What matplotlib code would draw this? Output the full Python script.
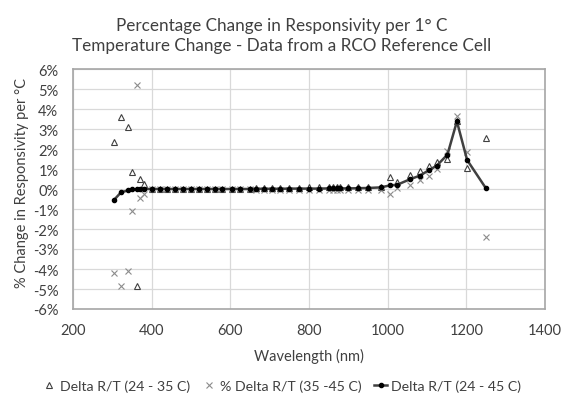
import matplotlib
matplotlib.use("Agg")
import matplotlib.pyplot as plt
from matplotlib.ticker import FuncFormatter, MultipleLocator

plt.rcParams['font.family'] = ['Lato', 'DejaVu Sans']

wavelength = [305, 322, 340, 349, 362, 371, 380, 400, 420, 440, 460, 480, 500,
              520, 540, 560, 580, 605, 625, 650, 665, 685, 705, 725, 750, 775,
              800, 825, 850, 860, 870, 880, 900, 925, 950, 982, 1006, 1024,
              1056, 1082, 1104, 1125, 1152, 1176, 1202, 1250]

delta_24_35 = [2.33, 3.58, 3.08, 0.83, -4.83, 0.50, 0.23, 0.0, 0.0, 0.0, 0.0, 0.0, 0.0,
               0.0, 0.0, 0.0, 0.0, 0.0, 0.0, 0.02, 0.03, 0.05, 0.05, 0.05, 0.06, 0.07,
               0.08, 0.08, 0.1, 0.1, 0.1, 0.1, 0.1, 0.1, 0.12, 0.12, 0.58, 0.37,
               0.70, 0.92, 1.13, 1.37, 1.50, 3.40, 1.03, 2.55]

delta_35_45 = [-4.20, -4.83, -4.12, -1.12, 5.20, -0.45, -0.25, 0.0, 0.0, 0.0, 0.0, 0.0, 0.0,
               0.0, 0.0, 0.0, 0.0, 0.0, 0.0, -0.02, -0.03, -0.04, -0.05, -0.05, -0.05, -0.05,
               -0.05, -0.05, -0.05, -0.05, -0.05, -0.05, -0.05, -0.04, -0.03, -0.03, -0.27, 0.03,
               0.22, 0.47, 0.67, 1.00, 1.92, 3.63, 1.83, -2.38]

delta_24_45 = [-0.53, -0.17, -0.07, -0.02, -0.01, 0.0, 0.0, 0.0, 0.0, 0.0, 0.0, 0.0, 0.0,
               0.0, 0.0, 0.0, 0.0, 0.0, 0.0, 0.0, 0.01, 0.01, 0.01, 0.01, 0.02, 0.02,
               0.02, 0.02, 0.03, 0.03, 0.03, 0.03, 0.03, 0.04, 0.05, 0.08, 0.18, 0.21,
               0.48, 0.67, 0.93, 1.17, 1.72, 3.38, 1.45, 0.03]

x_ticks = [200, 400, 600, 800, 1000, 1200, 1400]

fig = plt.figure(figsize=(5.64, 4.02), dpi=100)
ax = fig.add_axes([73/564, 1 - 310/402, (545 - 73)/564, (310 - 70)/402])

ax.plot(wavelength, delta_24_35, linestyle='none', marker='^', markersize=3.8,
        markerfacecolor='white', markeredgecolor='#404040', markeredgewidth=0.8,
        label='Delta R/T (24 - 35 C)', zorder=3)
ax.plot(wavelength, delta_35_45, linestyle='none', marker='x', markersize=3.8,
        color='#8c8c8c', markeredgewidth=0.8,
        label='% Delta R/T (35 -45 C)', zorder=3)
ax.plot(wavelength, delta_24_45, linestyle='-', color='#404040', linewidth=1.8,
        marker='o', markersize=3, markerfacecolor='black', markeredgecolor='black',
        label='Delta R/T (24 - 45 C)', zorder=4)

ax.set_xlim(200, 1400)
ax.set_ylim(-6, 6)
ax.set_xticks(x_ticks)
ax.yaxis.set_major_locator(MultipleLocator(1))
ax.yaxis.set_major_formatter(FuncFormatter(lambda v, p: f"{int(round(v))}%"))
ax.grid(True, color='#d9d9d9', linewidth=0.9)
ax.set_axisbelow(True)
for s in ax.spines.values():
    s.set_color('#a6a6a6')
    s.set_linewidth(1.2)
ax.tick_params(length=0, labelsize=10.5, colors='#404040')
ax.tick_params(axis='x', pad=10)
ax.tick_params(axis='y', pad=10.5)

ax.set_xlabel('Wavelength (nm)', fontsize=10.5, color='#404040', labelpad=8)
ax.set_ylabel('% Change in Responsivity per °C', fontsize=10.5, color='#404040')
ax.yaxis.set_label_coords(-0.093, 0.53)

fig.text(0.5, 0.955, 'Percentage Change in Responsivity per 1° C\nTemperature Change - Data from a RCO Reference Cell',
         ha='center', va='top', fontsize=12.3, color='#404040', linespacing=1.3)

fig.legend(loc='center', bbox_to_anchor=(0.5, 0.038), ncol=3, frameon=False,
           fontsize=10.2, handlelength=0.9, handletextpad=0.3, columnspacing=0.9,
           labelcolor='#404040')

fig.savefig('out.png', dpi=100)
